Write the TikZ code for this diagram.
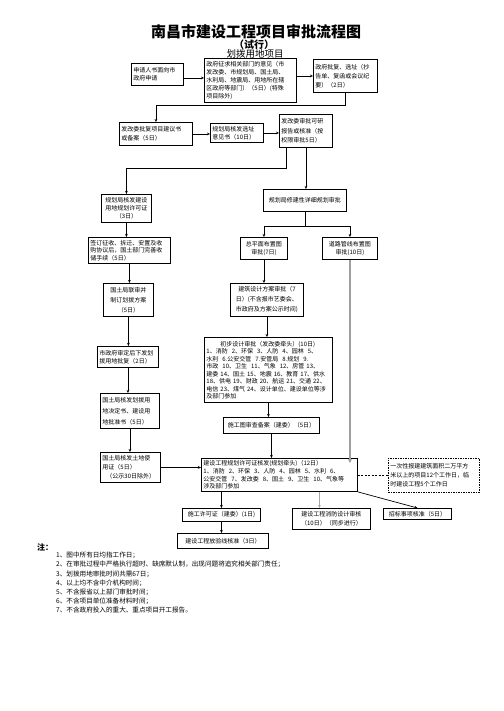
\documentclass[tikz,border=0pt]{standalone}
\usepackage{fontspec}
\setmainfont{Noto Sans CJK SC}
\usetikzlibrary{arrows.meta, positioning, calc}
\tikzset{
  box/.style={rectangle, draw=black, line width=0.9pt, inner sep=2pt, anchor=north west, align=left, font=\fontsize{6}{8}\selectfont},
  cbox/.style={box, align=center},
  dbox/.style={box, dash pattern=on 1.5pt off 1pt},
  arrow/.style={line width=0.7pt, -{Stealth[length=3pt, width=2.6pt]}},
  grayarrow/.style={line width=2pt, gray!75, -{Stealth[length=4pt, width=4pt]}},
  grayline/.style={line width=0.9pt, gray!70, -{Stealth[length=3pt, width=2.6pt]}},
  dashline/.style={line width=0.7pt, dash pattern=on 2pt off 1.5pt},
  note/.style={anchor=north west, align=left, inner sep=0pt, font=\fontsize{6.6}{9.2}\selectfont}
}

\begin{document}
\begin{tikzpicture}[x=1pt, y=-1pt]
\useasboundingbox (0,0) rectangle (503,711);
% Title
\node[font=\bfseries\fontsize{15}{16}\selectfont, inner sep=0pt] (title) at (256,31.5) {南昌市建设工程项目审批流程图};
\node[font=\bfseries\fontsize{10}{11}\selectfont, inner sep=0pt] (trial) at (254,44.5) {（试行）};
\node[font=\fontsize{9.5}{10}\selectfont, inner sep=0pt] (subtitle) at (255,53.5) {划拨用地项目};

% Top row
\node[box, text width=48pt, minimum height=22pt] (apply) at (131,63) {申请人书面向市\\政府申请};
\node[box, text width=88pt, minimum height=44pt] (opinion) at (204,58) {政府征求相关部门的意见（市\\发改委、市规划局、国土局、\\水利局、地震局、用地所在辖\\区政府等部门）（5日）(特殊\\项目除外)};
\node[box, text width=60pt, minimum height=33pt, font=\fontsize{6}{9}\selectfont] (reply) at (313,59) {政府批复、选址（抄\\告单、复函或会议纪\\要）（2日）};

% Second row
\node[box, text width=69pt, minimum height=23pt, font=\fontsize{6}{9}\selectfont] (proposal) at (119,122) {发改委批复项目建议书\\或备案（5日）};
\node[box, text width=49pt, minimum height=19pt] (siteopinion) at (210,123) {规划局核发选址\\意见书（10日）};
\node[box, text width=49pt, minimum height=33pt, font=\fontsize{6}{9.5}\selectfont] (feasibility) at (279,114) {发改委审批可研\\报告或核准（按\\权限审批5日）};

% Left column
\node[cbox, text width=46pt, minimum height=28pt] (landpermit) at (101,194) {规划局核发建设\\用地规划许可证\\（3日）};
\node[box, text width=78pt, minimum height=26pt, font=\fontsize{6}{7.6}\selectfont] (acquire) at (88,237) {签订征收、拆迁、安置及收\\购协议后，国土部门完善收\\储手续（5日）};
\node[cbox, text width=46pt, minimum height=33pt, font=\fontsize{6}{10}\selectfont] (landscheme) at (103,283) {国土局联审并\\制订划拨方案\\（5日）};
\node[box, text width=57pt, minimum height=21pt] (landreply) at (97,346) {市政府审定后下发划\\拨用地批复（2日）};
\node[box, text width=55pt, minimum height=35pt, font=\fontsize{6}{11}\selectfont] (landdecision) at (100,393) {国土局核发划拨用\\地决定书、建设用\\地批准书（5日）};
\node[box, text width=56pt, minimum height=30pt, font=\fontsize{6}{9}\selectfont] (landcert) at (100,452) {国土局核发土地使\\用证（5日）\\\ \ （公示30日除外）};

% Right column
\node[cbox, text width=79pt, minimum height=22pt] (detailplan) at (263,189) {规划局修建性详细规划审批};
\node[cbox, text width=43pt, minimum height=22pt] (sitelayout) at (240,237) {总平面布置图\\审批(7日)};
\node[cbox, text width=51pt, minimum height=22pt] (roadlayout) at (322,237) {道路管线布置图\\审批(10日)};
\node[cbox, text width=69pt, minimum height=33pt, font=\fontsize{6}{10}\selectfont] (archscheme) at (230,283) {建筑设计方案审批（7\\日）(不含报市艺委会、\\市政府及方案公示时间)};
\node[box, text width=124pt, minimum height=65pt, font=\fontsize{6}{7.5}\selectfont] (prelim) at (204,337) {\hspace*{14pt}初步设计审批（发改委牵头）(10日)\\1、消防\ \ 2、环保\ \ 3、人防\ \ 4、园林\ \ 5、\\水利\ \ 6.公安交管\ \ 7.安管局\ \ 8.规划\ \ 9.\\市政\ \ 10、卫生\ \ 11、气象\ \ 12、房管 13、\\建委 14、国土 15、地震 16、教育 17、供水\\18、供电 19、财政 20、航运 21、交通 22、\\电信 23、煤气 24、设计单位、建设单位等涉\\及部门参加};
\node[cbox, text width=92pt, minimum height=16pt] (drawingcheck) at (223,417) {施工图审查备案（建委）（5日）};
\node[box, text width=152pt, minimum height=33pt, font=\fontsize{6}{7.6}\selectfont] (planpermit) at (201,458) {建设工程规划许可证核发(规划牵头)（12日）\\1、消防\ \ 2、环保\ \ 3、人防\ \ 4、园林\ \ 5、水利\ \ 6、\\公安交管\ \ 7、发改委\ \ 8、国土\ \ 9、卫生\ \ 10、气象等\\涉及部门参加};
\node[dbox, text width=87pt, minimum height=34pt, font=\fontsize{6}{9}\selectfont] (bigproject) at (388,458) {一次性报建建筑面积二万平方\\米以上的项目12个工作日，临\\时建设工程5个工作日};

% Bottom row
\node[cbox, text width=74pt, minimum height=13pt] (buildpermit) at (182,508) {施工许可证（建委）(1日)};
\node[cbox, text width=74pt, minimum height=21pt, font=\fontsize{6}{9}\selectfont] (firecheck) at (292,508) {建设工程消防设计审核\\（10日）（同步进行）};
\node[cbox, text width=64pt, minimum height=11pt] (tender) at (383,508) {招标事项核准（5日）};
\node[cbox, text width=87pt, minimum height=15pt] (setout) at (177,533) {建设工程放验线核准（3日）};

% Notes
\node[anchor=north west, inner sep=0pt, font=\bfseries\fontsize{8}{9}\selectfont] (notehead) at (37,543) {注：};
\node[note] (notes) at (56,552) {1、图中所有日均指工作日；\\2、在审批过程中严格执行超时、缺席默认制，出现问题将追究相关部门责任；\\3、划拨用地审批时间共需67日；\\4、以上均不含中介机构时间；\\5、不含报省以上部门审批时间；\\6、不含项目单位准备材料时间；\\7、不含政府投入的重大、重点项目开工报告。};

% Connectors
\draw[arrow] ([yshift=-3.5pt]apply.east) -- ([yshift=-3.5pt]apply.east -| opinion.west);
\draw[arrow] (reply.west -| opinion.east) -- (reply.west);
\draw[arrow] (reply.south) -- ++(0,12) -| (proposal.north);
\draw[arrow] (proposal.east) -- (proposal.east -| siteopinion.west);
\draw[arrow] (siteopinion.east) -- (siteopinion.east -| feasibility.west);
\draw[arrow] ([xshift=7pt]feasibility.south west) -- ++(0,20) -| (landpermit.north);
\draw[arrow] (feasibility.south) -- (feasibility.south |- detailplan.north);
\draw[arrow] (landpermit.south) -- (landpermit.south |- acquire.north);
\draw (detailplan.south) -- ++(0,14) coordinate (split);
\draw (split -| sitelayout.north) -- (split -| roadlayout.north);
\draw[arrow] (split -| sitelayout.north) -- (sitelayout.north);
\draw[arrow] (split -| roadlayout.north) -- (roadlayout.north);
\draw[arrow] (acquire.south) -- (acquire.south |- landscheme.north);
\draw[arrow] (sitelayout.south) -- (sitelayout.south |- archscheme.north);
\draw[arrow] (landscheme.south) -- (landscheme.south |- landreply.north);
\draw[arrow] (archscheme.south) -- (archscheme.south |- prelim.north);
\draw[arrow] (landreply.south) -- (landreply.south |- landdecision.north);
\draw[arrow] (prelim.south) -- (prelim.south |- drawingcheck.north);
\draw[arrow] (landdecision.south) -- (landdecision.south |- landcert.north);
\draw[arrow] (drawingcheck.south) -- (drawingcheck.south |- planpermit.north);
\draw[grayarrow] (roadlayout.south) -- ([yshift=-5pt]roadlayout.south |- planpermit.north);
\draw[arrow] (landcert.east) -- (landcert.east -| planpermit.west);
\draw[dashline] (planpermit.east) -- (planpermit.east -| bigproject.west);
\draw[arrow] (buildpermit.north |- planpermit.south) -- (buildpermit.north);
\draw[grayline] ([xshift=-12pt]firecheck.north |- planpermit.south) -- ([xshift=-12pt]firecheck.north);
\draw[arrow] (planpermit.south east) -- (tender.north);
\draw[arrow] (buildpermit.south) -- (buildpermit.south |- setout.north);
\end{tikzpicture}
\end{document}
